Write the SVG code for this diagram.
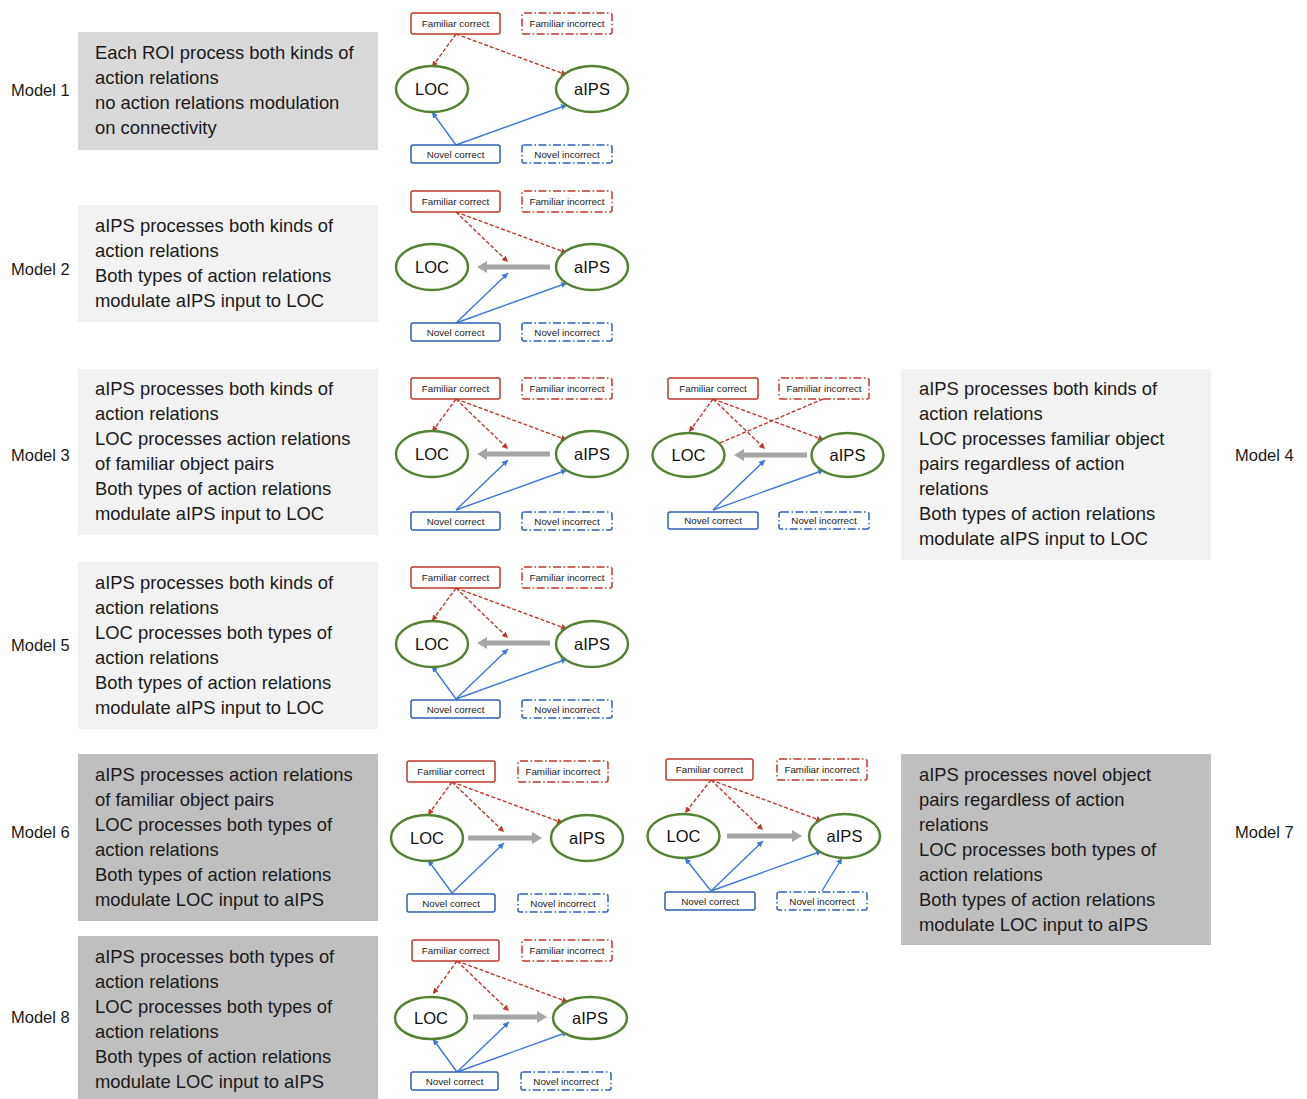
<svg xmlns="http://www.w3.org/2000/svg" width="1307" height="1099" viewBox="0 0 1307 1099">
<defs>
<style>
.desc{font-family:"Liberation Sans",Arial,sans-serif;font-size:18.4px;fill:#1a1a1a}
.mlab{font-family:"Liberation Sans",Arial,sans-serif;font-size:16.5px;fill:#1a1a1a}
.b1{fill:#d9d9d9}.b2{fill:#f2f2f2}.b3{fill:#bfbfbf}
.fc{fill:#fff;stroke:#c0392b;stroke-width:1.5}
.fi{fill:#fff;stroke:#c0392b;stroke-width:1.5;stroke-dasharray:8 2.5 1.5 2.5}
.nc{fill:#fff;stroke:#2e5fb8;stroke-width:1.5}
.ni{fill:#fff;stroke:#2e5fb8;stroke-width:1.5;stroke-dasharray:8 2.5 1.5 2.5}
.sm{font-family:"Liberation Sans",Arial,sans-serif;font-size:9.8px;fill:#222;text-anchor:middle}
.roi{fill:#fff;stroke:#548235;stroke-width:2.5}
.rt{font-family:"Liberation Sans",Arial,sans-serif;font-size:16.5px;fill:#111;text-anchor:middle}
.red{stroke:#c0392b;stroke-width:1.4;stroke-dasharray:4 2;fill:none;marker-end:url(#ar)}
.blue{stroke:#3c78d8;stroke-width:1.4;fill:none;marker-end:url(#ab)}
.gray{stroke:#a6a6a6;stroke-width:5;fill:none;marker-end:url(#ag)}
</style>
<marker id="ar" markerUnits="userSpaceOnUse" markerWidth="7" markerHeight="7" refX="6" refY="3" orient="auto"><path d="M0,0 L6,3 L0,6 z" fill="#c0392b"/></marker>
<marker id="ab" markerUnits="userSpaceOnUse" markerWidth="7" markerHeight="7" refX="6" refY="3" orient="auto"><path d="M0,0 L6,3 L0,6 z" fill="#3c78d8"/></marker>
<marker id="ag" markerUnits="userSpaceOnUse" markerWidth="12" markerHeight="12" refX="2" refY="6" orient="auto"><path d="M0,0 L10,6 L0,12 z" fill="#a6a6a6"/></marker>
</defs>
<rect width="1307" height="1099" fill="#fff"/>

<!-- description boxes -->
<g id="desc1"><rect class="b1" x="78" y="32" width="300" height="118"/>
<text class="desc" x="95" y="59">Each ROI process both kinds of</text>
<text class="desc" x="95" y="84">action relations</text>
<text class="desc" x="95" y="109">no action relations modulation</text>
<text class="desc" x="95" y="134">on connectivity</text></g>
<text class="mlab" x="11" y="96">Model 1</text>

<g id="desc2"><rect class="b2" x="78" y="205" width="300" height="117"/>
<text class="desc" x="95" y="232">aIPS processes both kinds of</text>
<text class="desc" x="95" y="257">action relations</text>
<text class="desc" x="95" y="282">Both types of action relations</text>
<text class="desc" x="95" y="307">modulate aIPS input to LOC</text></g>
<text class="mlab" x="11" y="275">Model 2</text>

<g id="desc3"><rect class="b2" x="78" y="369" width="300" height="166"/>
<text class="desc" x="95" y="395">aIPS processes both kinds of</text>
<text class="desc" x="95" y="420">action relations</text>
<text class="desc" x="95" y="445">LOC processes action relations</text>
<text class="desc" x="95" y="470">of familiar object pairs</text>
<text class="desc" x="95" y="495">Both types of action relations</text>
<text class="desc" x="95" y="520">modulate aIPS input to LOC</text></g>
<text class="mlab" x="11" y="461">Model 3</text>

<g id="desc4"><rect class="b2" x="901" y="369" width="310" height="191"/>
<text class="desc" x="919" y="395">aIPS processes both kinds of</text>
<text class="desc" x="919" y="420">action relations</text>
<text class="desc" x="919" y="445">LOC processes familiar object</text>
<text class="desc" x="919" y="470">pairs regardless of action</text>
<text class="desc" x="919" y="495">relations</text>
<text class="desc" x="919" y="520">Both types of action relations</text>
<text class="desc" x="919" y="545">modulate aIPS input to LOC</text></g>
<text class="mlab" x="1235" y="461">Model 4</text>

<g id="desc5"><rect class="b2" x="78" y="562" width="300" height="167"/>
<text class="desc" x="95" y="589">aIPS processes both kinds of</text>
<text class="desc" x="95" y="614">action relations</text>
<text class="desc" x="95" y="639">LOC processes both types of</text>
<text class="desc" x="95" y="664">action relations</text>
<text class="desc" x="95" y="689">Both types of action relations</text>
<text class="desc" x="95" y="714">modulate aIPS input to LOC</text></g>
<text class="mlab" x="11" y="651">Model 5</text>

<g id="desc6"><rect class="b3" x="78" y="754" width="300" height="167"/>
<text class="desc" x="95" y="781">aIPS processes action relations</text>
<text class="desc" x="95" y="806">of familiar object pairs</text>
<text class="desc" x="95" y="831">LOC processes both types of</text>
<text class="desc" x="95" y="856">action relations</text>
<text class="desc" x="95" y="881">Both types of action relations</text>
<text class="desc" x="95" y="906">modulate LOC input to aIPS</text></g>
<text class="mlab" x="11" y="838">Model 6</text>

<g id="desc7"><rect class="b3" x="901" y="754" width="310" height="191"/>
<text class="desc" x="919" y="781">aIPS processes novel object</text>
<text class="desc" x="919" y="806">pairs regardless of action</text>
<text class="desc" x="919" y="831">relations</text>
<text class="desc" x="919" y="856">LOC processes both types of</text>
<text class="desc" x="919" y="881">action relations</text>
<text class="desc" x="919" y="906">Both types of action relations</text>
<text class="desc" x="919" y="931">modulate LOC input to aIPS</text></g>
<text class="mlab" x="1235" y="838">Model 7</text>

<g id="desc8"><rect class="b3" x="78" y="936" width="300" height="163"/>
<text class="desc" x="95" y="963">aIPS processes both types of</text>
<text class="desc" x="95" y="988">action relations</text>
<text class="desc" x="95" y="1013">LOC processes both types of</text>
<text class="desc" x="95" y="1038">action relations</text>
<text class="desc" x="95" y="1063">Both types of action relations</text>
<text class="desc" x="95" y="1088">modulate LOC input to aIPS</text></g>
<text class="mlab" x="11" y="1023">Model 8</text>

<!-- connectors -->
<g id="connectors">
<g transform="translate(411,13)">
<line class="red" x1="45" y1="21" x2="21" y2="54"/><line class="red" x1="45" y1="21" x2="156" y2="62"/>
<line class="blue" x1="45" y1="132" x2="21" y2="99"/><line class="blue" x1="45" y1="132" x2="156" y2="92"/>
</g>
<g transform="translate(411,191)">
<line class="gray" x1="139" y1="76" x2="74" y2="76"/>
<line class="red" x1="45" y1="21" x2="97" y2="71"/><line class="red" x1="45" y1="21" x2="156" y2="62"/>
<line class="blue" x1="45" y1="132" x2="97" y2="82"/><line class="blue" x1="45" y1="132" x2="156" y2="92"/>
</g>
<g transform="translate(411,378)">
<line class="gray" x1="139" y1="76" x2="74" y2="76"/>
<line class="red" x1="45" y1="21" x2="21" y2="54"/><line class="red" x1="45" y1="21" x2="97" y2="71"/><line class="red" x1="45" y1="21" x2="156" y2="62"/>
<line class="blue" x1="45" y1="132" x2="97" y2="82"/><line class="blue" x1="45" y1="132" x2="156" y2="92"/>
</g>
<g transform="translate(668,378)">
<line class="gray" x1="139" y1="77" x2="74" y2="77"/>
<line class="red" x1="45" y1="21" x2="21" y2="54"/><line class="red" x1="45" y1="21" x2="97" y2="71"/><line class="red" x1="45" y1="21" x2="156" y2="62"/>
<line class="red" x1="155" y1="21" x2="40" y2="70"/>
<line class="blue" x1="45" y1="132" x2="97" y2="82"/><line class="blue" x1="45" y1="132" x2="156" y2="92"/>
</g>
<g transform="translate(411,567)">
<line class="gray" x1="139" y1="76" x2="74" y2="76"/>
<line class="red" x1="45" y1="21" x2="21" y2="54"/><line class="red" x1="45" y1="21" x2="97" y2="71"/><line class="red" x1="45" y1="21" x2="156" y2="62"/>
<line class="blue" x1="45" y1="132" x2="21" y2="99"/><line class="blue" x1="45" y1="132" x2="97" y2="82"/><line class="blue" x1="45" y1="132" x2="156" y2="92"/>
</g>
<g transform="translate(407,761)">
<line class="gray" x1="61" y1="77" x2="127" y2="77"/>
<line class="red" x1="45" y1="21" x2="21" y2="54"/><line class="red" x1="45" y1="21" x2="97" y2="71"/><line class="red" x1="45" y1="21" x2="156" y2="62"/>
<line class="blue" x1="45" y1="132" x2="21" y2="99"/><line class="blue" x1="45" y1="132" x2="97" y2="82"/>
</g>
<g transform="translate(666,759)">
<line class="gray" x1="61" y1="77" x2="128" y2="77"/>
<line class="red" x1="45" y1="21" x2="19" y2="54"/><line class="red" x1="45" y1="21" x2="97" y2="71"/><line class="red" x1="45" y1="21" x2="156" y2="62"/>
<line class="blue" x1="45" y1="132" x2="19" y2="99"/><line class="blue" x1="45" y1="132" x2="97" y2="82"/><line class="blue" x1="45" y1="132" x2="156" y2="92"/>
<line class="blue" x1="156" y1="132" x2="176" y2="99"/>
</g>
<g transform="translate(412,940)">
<line class="gray" x1="61" y1="77" x2="127" y2="77"/>
<line class="red" x1="45" y1="21" x2="21" y2="54"/><line class="red" x1="45" y1="21" x2="97" y2="71"/><line class="red" x1="45" y1="21" x2="156" y2="62"/>
<line class="blue" x1="45" y1="132" x2="21" y2="99"/><line class="blue" x1="45" y1="132" x2="97" y2="82"/><line class="blue" x1="45" y1="132" x2="156" y2="92"/>
</g>
</g>

<!-- nodes -->
<g id="m1" transform="translate(411,13)">
<g id="m1-fc"><rect class="fc" x="0" y="0" width="89" height="21" rx="2"/><text class="sm" x="44.5" y="14">Familiar correct</text></g>
<g id="m1-fi"><rect class="fi" x="111" y="0" width="90" height="21" rx="2"/><text class="sm" x="156" y="14">Familiar incorrect</text></g>
<g id="m1-loc"><ellipse class="roi" cx="21" cy="76" rx="36" ry="23"/><text class="rt" x="21" y="82">LOC</text></g>
<g id="m1-aips"><ellipse class="roi" cx="181" cy="76" rx="36" ry="23"/><text class="rt" x="181" y="82">aIPS</text></g>
<g id="m1-nc"><rect class="nc" x="0" y="132" width="89" height="18" rx="2"/><text class="sm" x="44.5" y="144.5">Novel correct</text></g>
<g id="m1-ni"><rect class="ni" x="111" y="132" width="90" height="18" rx="2"/><text class="sm" x="156" y="144.5">Novel incorrect</text></g>
</g>
<g id="m2" transform="translate(411,191)">
<g id="m2-fc"><rect class="fc" x="0" y="0" width="89" height="21" rx="2"/><text class="sm" x="44.5" y="14">Familiar correct</text></g>
<g id="m2-fi"><rect class="fi" x="111" y="0" width="90" height="21" rx="2"/><text class="sm" x="156" y="14">Familiar incorrect</text></g>
<g id="m2-loc"><ellipse class="roi" cx="21" cy="76" rx="36" ry="23"/><text class="rt" x="21" y="82">LOC</text></g>
<g id="m2-aips"><ellipse class="roi" cx="181" cy="76" rx="36" ry="23"/><text class="rt" x="181" y="82">aIPS</text></g>
<g id="m2-nc"><rect class="nc" x="0" y="132" width="89" height="18" rx="2"/><text class="sm" x="44.5" y="144.5">Novel correct</text></g>
<g id="m2-ni"><rect class="ni" x="111" y="132" width="90" height="18" rx="2"/><text class="sm" x="156" y="144.5">Novel incorrect</text></g>
</g>
<g id="m3" transform="translate(411,378)">
<g id="m3-fc"><rect class="fc" x="0" y="0" width="89" height="21" rx="2"/><text class="sm" x="44.5" y="14">Familiar correct</text></g>
<g id="m3-fi"><rect class="fi" x="111" y="0" width="90" height="21" rx="2"/><text class="sm" x="156" y="14">Familiar incorrect</text></g>
<g id="m3-loc"><ellipse class="roi" cx="21" cy="76" rx="36" ry="23"/><text class="rt" x="21" y="82">LOC</text></g>
<g id="m3-aips"><ellipse class="roi" cx="181" cy="76" rx="36" ry="23"/><text class="rt" x="181" y="82">aIPS</text></g>
<g id="m3-nc"><rect class="nc" x="0" y="134" width="89" height="18" rx="2"/><text class="sm" x="44.5" y="146.5">Novel correct</text></g>
<g id="m3-ni"><rect class="ni" x="111" y="134" width="90" height="18" rx="2"/><text class="sm" x="156" y="146.5">Novel incorrect</text></g>
</g>
<g id="m4" transform="translate(668,378)">
<g id="m4-fc"><rect class="fc" x="0" y="0" width="90" height="21" rx="2"/><text class="sm" x="45" y="14">Familiar correct</text></g>
<g id="m4-fi"><rect class="fi" x="111" y="0" width="90" height="21" rx="2"/><text class="sm" x="156" y="14">Familiar incorrect</text></g>
<g id="m4-loc"><ellipse class="roi" cx="20.5" cy="77" rx="36" ry="22"/><text class="rt" x="20.5" y="83">LOC</text></g>
<g id="m4-aips"><ellipse class="roi" cx="179.5" cy="77" rx="36" ry="22"/><text class="rt" x="179.5" y="83">aIPS</text></g>
<g id="m4-nc"><rect class="nc" x="0" y="134" width="90" height="17" rx="2"/><text class="sm" x="45" y="146">Novel correct</text></g>
<g id="m4-ni"><rect class="ni" x="111" y="134" width="90" height="17" rx="2"/><text class="sm" x="156" y="146">Novel incorrect</text></g>
</g>
<g id="m5" transform="translate(411,567)">
<g id="m5-fc"><rect class="fc" x="0" y="0" width="89" height="21" rx="2"/><text class="sm" x="44.5" y="14">Familiar correct</text></g>
<g id="m5-fi"><rect class="fi" x="111" y="0" width="90" height="21" rx="2"/><text class="sm" x="156" y="14">Familiar incorrect</text></g>
<g id="m5-loc"><ellipse class="roi" cx="21" cy="77" rx="36" ry="23"/><text class="rt" x="21" y="83">LOC</text></g>
<g id="m5-aips"><ellipse class="roi" cx="181" cy="77" rx="36" ry="23"/><text class="rt" x="181" y="83">aIPS</text></g>
<g id="m5-nc"><rect class="nc" x="0" y="133" width="89" height="18" rx="2"/><text class="sm" x="44.5" y="145.5">Novel correct</text></g>
<g id="m5-ni"><rect class="ni" x="111" y="133" width="90" height="18" rx="2"/><text class="sm" x="156" y="145.5">Novel incorrect</text></g>
</g>
<g id="m6" transform="translate(407,761)">
<g id="m6-fc"><rect class="fc" x="0" y="0" width="88" height="21" rx="2"/><text class="sm" x="44" y="14">Familiar correct</text></g>
<g id="m6-fi"><rect class="fi" x="111" y="0" width="90" height="21" rx="2"/><text class="sm" x="156" y="14">Familiar incorrect</text></g>
<g id="m6-loc"><ellipse class="roi" cx="20" cy="77" rx="36" ry="23"/><text class="rt" x="20" y="83">LOC</text></g>
<g id="m6-aips"><ellipse class="roi" cx="180" cy="77" rx="36" ry="23"/><text class="rt" x="180" y="83">aIPS</text></g>
<g id="m6-nc"><rect class="nc" x="0" y="133" width="88" height="18" rx="2"/><text class="sm" x="44" y="145.5">Novel correct</text></g>
<g id="m6-ni"><rect class="ni" x="111" y="133" width="90" height="18" rx="2"/><text class="sm" x="156" y="145.5">Novel incorrect</text></g>
</g>
<g id="m7" transform="translate(666,759)">
<g id="m7-fc"><rect class="fc" x="0" y="0" width="87" height="21" rx="2"/><text class="sm" x="43.5" y="14">Familiar correct</text></g>
<g id="m7-fi"><rect class="fi" x="111" y="0" width="90" height="21" rx="2"/><text class="sm" x="156" y="14">Familiar incorrect</text></g>
<g id="m7-loc"><ellipse class="roi" cx="17.5" cy="77" rx="36" ry="22"/><text class="rt" x="17.5" y="83">LOC</text></g>
<g id="m7-aips"><ellipse class="roi" cx="178.5" cy="77" rx="35.5" ry="22"/><text class="rt" x="178.5" y="83">aIPS</text></g>
<g id="m7-nc"><rect class="nc" x="-1" y="133" width="90" height="18" rx="2"/><text class="sm" x="44" y="145.5">Novel correct</text></g>
<g id="m7-ni"><rect class="ni" x="111" y="133" width="90" height="18" rx="2"/><text class="sm" x="156" y="145.5">Novel incorrect</text></g>
</g>
<g id="m8" transform="translate(412,940)">
<g id="m8-fc"><rect class="fc" x="0" y="0" width="87" height="21" rx="2"/><text class="sm" x="43.5" y="14">Familiar correct</text></g>
<g id="m8-fi"><rect class="fi" x="110" y="0" width="90" height="21" rx="2"/><text class="sm" x="155" y="14">Familiar incorrect</text></g>
<g id="m8-loc"><ellipse class="roi" cx="19" cy="78" rx="36" ry="21"/><text class="rt" x="19" y="84">LOC</text></g>
<g id="m8-aips"><ellipse class="roi" cx="178" cy="78" rx="37" ry="21"/><text class="rt" x="178" y="84">aIPS</text></g>
<g id="m8-nc"><rect class="nc" x="-1" y="132" width="87" height="18" rx="2"/><text class="sm" x="42.5" y="144.5">Novel correct</text></g>
<g id="m8-ni"><rect class="ni" x="109" y="132" width="90" height="18" rx="2"/><text class="sm" x="154" y="144.5">Novel incorrect</text></g>
</g>
</svg>
